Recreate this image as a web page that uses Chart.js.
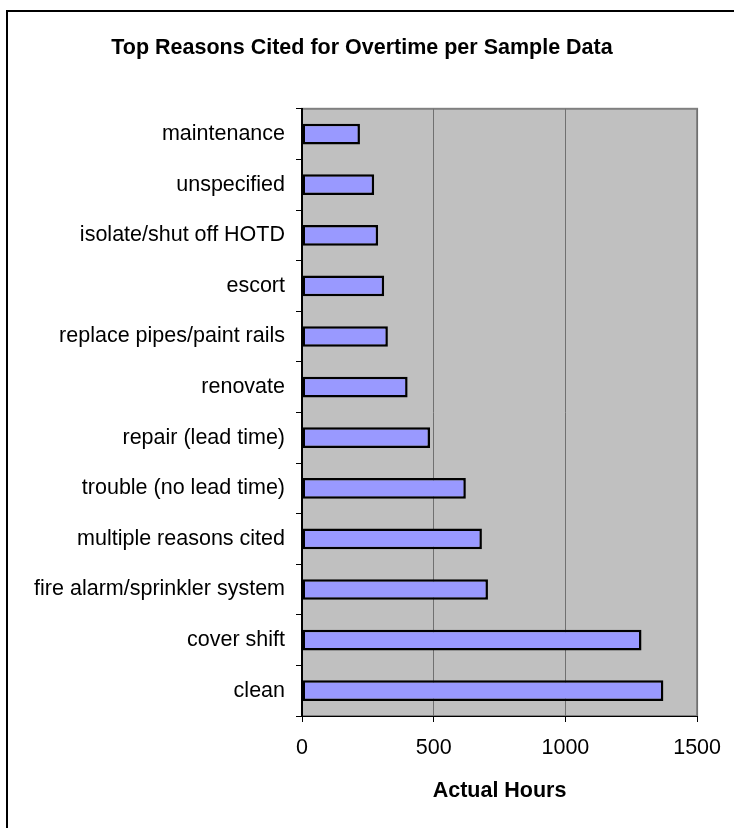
<!DOCTYPE html>
<html>
<head>
<meta charset="utf-8">
<script src="https://cdn.jsdelivr.net/npm/chart.js@4.4.1/dist/chart.umd.min.js"></script>
<style>
  html, body { margin: 0; padding: 0; background: #fff; overflow: hidden; }
  #wrap { position: relative; width: 734px; height: 828px; }
  #frame { position: absolute; left: 6px; top: 10px; width: 820px; height: 900px; border: 2px solid #000; box-sizing: border-box; }
  #chart { position: absolute; left: 0; top: 0; }
</style>
</head>
<body>
<div id="wrap">
  <div id="frame"></div>
  <canvas id="chart" width="734" height="828" role="img" aria-label="Top reasons cited for overtime, actual hours"></canvas>
</div>
<script>
const reasons = [
  'maintenance',
  'unspecified',
  'isolate/shut off HOTD',
  'escort',
  'replace pipes/paint rails',
  'renovate',
  'repair (lead time)',
  'trouble (no lead time)',
  'multiple reasons cited',
  'fire alarm/sprinkler system',
  'cover shift',
  'clean'
];
const hours = [220, 274, 289, 312, 326, 401, 486, 622, 683, 706, 1289, 1372];
const hourTicks = [0, 500, 1000, 1500];

const FONT = "'Liberation Sans', Arial, sans-serif";
Chart.defaults.font.family = FONT;
Chart.defaults.color = '#000';

// grey plot area with a thin grey frame, like the old spreadsheet charts
const plotBg = {
  id: 'plotBg',
  beforeDraw(chart) {
    const { ctx, chartArea: a } = chart;
    ctx.save();
    ctx.fillStyle = '#C0C0C0';
    ctx.fillRect(a.left, a.top, a.right - a.left, a.bottom - a.top);
    ctx.strokeStyle = '#808080';
    ctx.lineWidth = 2;
    ctx.strokeRect(a.left, a.top, a.right - a.left, a.bottom - a.top);
    ctx.restore();
  }
};

new Chart(document.getElementById('chart'), {
  type: 'bar',
  data: {
    labels: reasons,
    datasets: [{
      label: 'Actual Hours',
      data: hours,
      backgroundColor: '#9999FF',
      borderColor: '#000',
      borderWidth: 2.5,
      borderSkipped: false,
      barPercentage: 0.41,
      categoryPercentage: 1
    }]
  },
  options: {
    indexAxis: 'y',
    responsive: false,
    animation: false,
    devicePixelRatio: 1,
    layout: { padding: { left: 26, right: 36, top: 0, bottom: 0 } },
    plugins: {
      legend: { display: false },
      tooltip: { enabled: false },
      title: {
        display: true,
        text: 'Top Reasons Cited for Overtime per Sample Data',
        color: '#000',
        font: { size: 21.5, weight: 'bold', family: FONT },
        padding: { top: 35, bottom: 48 }
      }
    },
    scales: {
      x: {
        min: 0,
        max: 1500,
        afterBuildTicks: s => { s.ticks = hourTicks.map(v => ({ value: v })); },
        afterFit: s => { s.height = 112; },
        grid: { color: '#707070', lineWidth: 1, tickLength: 6, tickColor: '#000' },
        border: { color: '#000', width: 1 },
        ticks: { color: '#000', font: { size: 21.5 }, padding: 13, maxRotation: 0, callback: v => String(v) },
        title: {
          display: true,
          text: 'Actual Hours',
          color: '#000',
          font: { size: 21.5, weight: 'bold' },
          padding: { top: 0, bottom: 24 }
        }
      },
      y: {
        afterFit: s => { s.width = 276; },
        grid: { drawOnChartArea: false, offset: true, tickLength: 6, color: '#000' },
        border: { color: '#000', width: 2 },
        ticks: { color: '#000', font: { size: 21.5 }, padding: 11, autoSkip: false }
      }
    }
  },
  plugins: [plotBg]
});
</script>
</body>
</html>
